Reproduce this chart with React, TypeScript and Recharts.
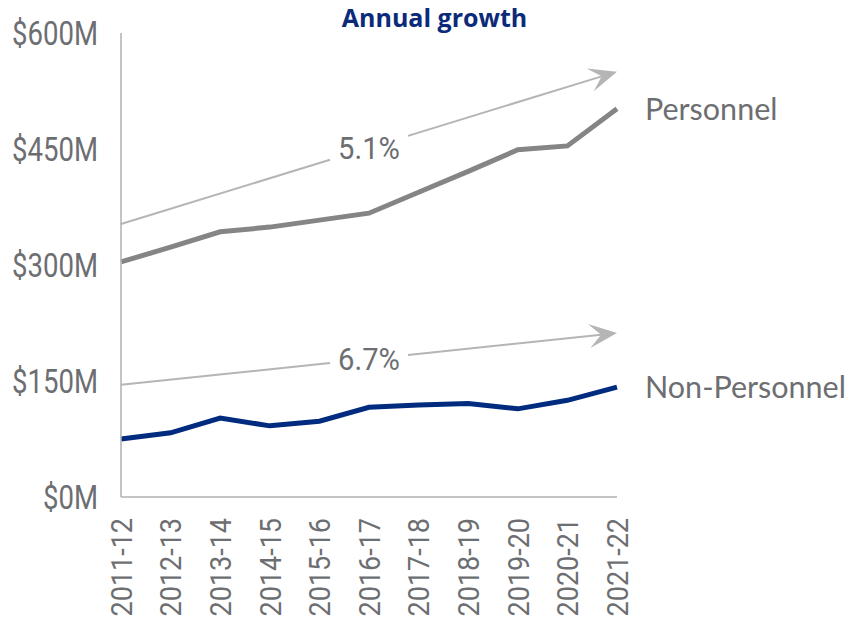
import React from 'react';
import { LineChart, Line, XAxis, YAxis, ReferenceLine } from 'recharts';

const years = ['2011-12', '2012-13', '2013-14', '2014-15', '2015-16', '2016-17', '2017-18', '2018-19', '2019-20', '2020-21', '2021-22'];
const personnel = [304, 323, 343, 349, 358, 367, 394, 421, 449, 454, 502];
const nonPersonnel = [75, 83, 102, 92, 98, 116, 119, 121, 114, 125, 142];
const yTicks = [0, 150, 300, 450, 600];
const personnelTrend = [353, 550];
const nonPersonnelTrend = [145, 212];
const personnelGrowth = '5.1%';
const nonPersonnelGrowth = '6.7%';

const data = years.map((year, i) => ({ year, personnel: personnel[i], nonPersonnel: nonPersonnel[i] }));

const GREY_TEXT = '#6d6e71';
const NARROW = 'Roboto, sans-serif';
const HUMAN = 'Lato, "Open Sans", sans-serif';

const arrowShape = (label: string) => (props: any) => {
  const { x1, y1, x2, y2 } = props;
  const dx = x2 - x1;
  const dy = y2 - y1;
  const L = Math.sqrt(dx * dx + dy * dy);
  const ux = dx / L;
  const uy = dy / L;
  const mx = (x1 + x2) / 2;
  const my = (y1 + y2) / 2;
  const gapHalf = 39 / Math.abs(ux);
  const headLen = 28;
  const halfW = 12;
  const notch = 16;
  const bx = x2 - ux * headLen;
  const by = y2 - uy * headLen;
  const nx = x2 - ux * notch;
  const ny = y2 - uy * notch;
  const px = -uy;
  const py = ux;
  const color = '#b5b5b5';
  return (
    <g>
      <line x1={x1} y1={y1} x2={mx - ux * gapHalf} y2={my - uy * gapHalf} stroke={color} strokeWidth={2} />
      <line x1={mx + ux * gapHalf} y1={my + uy * gapHalf} x2={nx} y2={ny} stroke={color} strokeWidth={2} />
      <polygon
        points={`${x2},${y2} ${bx + px * halfW},${by + py * halfW} ${nx},${ny} ${bx - px * halfW},${by - py * halfW}`}
        fill={color}
      />
      <text
        x={mx}
        y={my}
        dy="0.35em"
        textAnchor="middle"
        fontFamily={NARROW}
        fontSize={31}
        fill={GREY_TEXT}
        transform={`translate(${mx},0) scale(0.94,1) translate(${-mx},0)`}
      >
        {label}
      </text>
    </g>
  );
};

const endLabel = (name: string) => (props: any) => {
  const { cx, cy, index } = props;
  if (index !== years.length - 1) return <g key={`d-${name}-${index}`} />;
  return (
    <text key={`d-${name}-${index}`} x={cx + 28} y={cy} dy="0.36em" fontFamily={HUMAN} fontSize={30.5} fill={GREY_TEXT}>
      {name}
    </text>
  );
};

const XTick = (props: any) => {
  const { x, y, payload } = props;
  const ty = y + 13;
  return (
    <g transform={`translate(${x},${ty}) rotate(-90) scale(0.9,1)`}>
      <text x={0} y={0} dy="0.36em" textAnchor="end" fontFamily={NARROW} fontSize={30} fill={GREY_TEXT}>
        {payload.value}
      </text>
    </g>
  );
};

const YTick = (props: any) => {
  const { x, y, payload } = props;
  return (
    <g transform={`translate(${x},${y}) scale(0.81,1)`}>
      <text x={0} y={0} dy="0.36em" textAnchor="end" fontFamily={NARROW} fontSize={34} fill={GREY_TEXT}>
        {`$${payload.value}M`}
      </text>
    </g>
  );
};

export default function App() {
  return (
    <div style={{ position: 'absolute', left: 0, top: 0, width: 849, height: 623, background: '#fff' }}>
      <div
        style={{
          position: 'absolute',
          left: 0,
          width: 869,
          top: 2,
          textAlign: 'center',
          fontFamily: '"Open Sans", sans-serif',
          fontWeight: 700,
          fontSize: 25,
          color: '#0b2b7a',
          lineHeight: '30px',
        }}
      >
        Annual growth
      </div>
      <LineChart width={849} height={623} data={data} margin={{ top: 33, right: 232, left: 0, bottom: 0 }}>
        <XAxis
          dataKey="year"
          height={126}
          tick={<XTick />}
          tickLine={false}
          axisLine={{ stroke: '#b0b0b0', strokeWidth: 1.5 }}
          interval={0}
        />
        <YAxis
          width={121}
          domain={[0, 600]}
          ticks={yTicks}
          tickLine={false}
          tickSize={0}
          tickMargin={23}
          axisLine={{ stroke: '#b0b0b0', strokeWidth: 1.5 }}
          tick={<YTick />}
        />
        <ReferenceLine
          segment={[{ x: years[0], y: personnelTrend[0] }, { x: years[years.length - 1], y: personnelTrend[1] }]}
          shape={arrowShape(personnelGrowth)}
          ifOverflow="visible"
        />
        <ReferenceLine
          segment={[{ x: years[0], y: nonPersonnelTrend[0] }, { x: years[years.length - 1], y: nonPersonnelTrend[1] }]}
          shape={arrowShape(nonPersonnelGrowth)}
          ifOverflow="visible"
        />
        <Line
          dataKey="personnel"
          stroke="#858585"
          strokeWidth={5}
          dot={endLabel('Personnel')}
          activeDot={false}
          isAnimationActive={false}
        />
        <Line
          dataKey="nonPersonnel"
          stroke="#002b7f"
          strokeWidth={5}
          dot={endLabel('Non-Personnel')}
          activeDot={false}
          isAnimationActive={false}
        />
      </LineChart>
    </div>
  );
}
